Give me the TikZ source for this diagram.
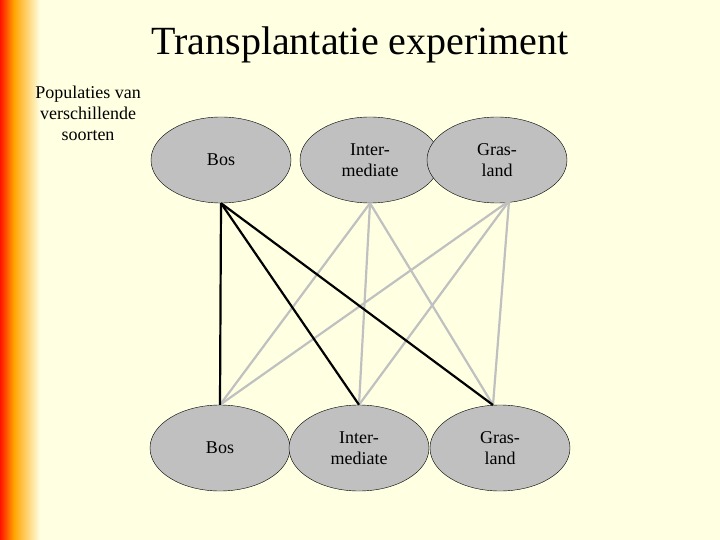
\documentclass[tikz,border=0pt]{standalone}
\usepackage{fontspec}
\setmainfont{Liberation Serif}
\usetikzlibrary{shapes.geometric}
\definecolor{bg}{RGB}{255,255,226}
\definecolor{ov}{RGB}{192,192,192}
\begin{document}
\begin{tikzpicture}[x=1pt,y=-1pt,
  pop/.style={ellipse,draw=black,fill=ov,minimum width=140pt,minimum height=86pt,inner sep=0pt,align=center,font=\fontsize{18}{21}\selectfont},
  blk/.style={black,line width=2.2pt},
  gry/.style={ov,line width=2.2pt}]
\useasboundingbox (0,0) rectangle (720,540);
\fill[bg] (0,0) rectangle (720,540);
\shade[left color=red!85!orange,right color=orange!70!yellow] (0,0) rectangle (14,540);
\shade[left color=orange!70!yellow,right color=bg] (14,0) rectangle (40,540);
\node (title) at (360,45) {\fontsize{40}{42}\selectfont Transplantatie experiment};
\node[align=center,font=\fontsize{18}{21}\selectfont] (lab) at (88,113) {Populaties van\\verschillende\\soorten};
\node[pop] (b1) at (221,160) {Bos};
\node[pop] (i1) at (370,160) {Inter-\\mediate};
\node[pop] (g1) at (497,160) {Gras-\\land};
\node[pop] (b2) at (220,448) {Bos};
\node[pop] (i2) at (359,448) {Inter-\\mediate};
\node[pop] (g2) at (500,448) {Gras-\\land};
\coordinate (gs) at (509,201);
\coordinate (g2n) at (493,405);
\draw[gry] (i1.south) -- (b2.north);
\draw[gry] (i1.south) -- (i2.north);
\draw[gry] (i1.south) -- (g2n);
\draw[gry] (gs) -- (b2.north);
\draw[gry] (gs) -- (i2.north);
\draw[gry] (gs) -- (g2n);
\draw[blk] (b1.south) -- (b2.north);
\draw[blk] (b1.south) -- (i2.north);
\draw[blk] (b1.south) -- (g2n);
\end{tikzpicture}
\end{document}
